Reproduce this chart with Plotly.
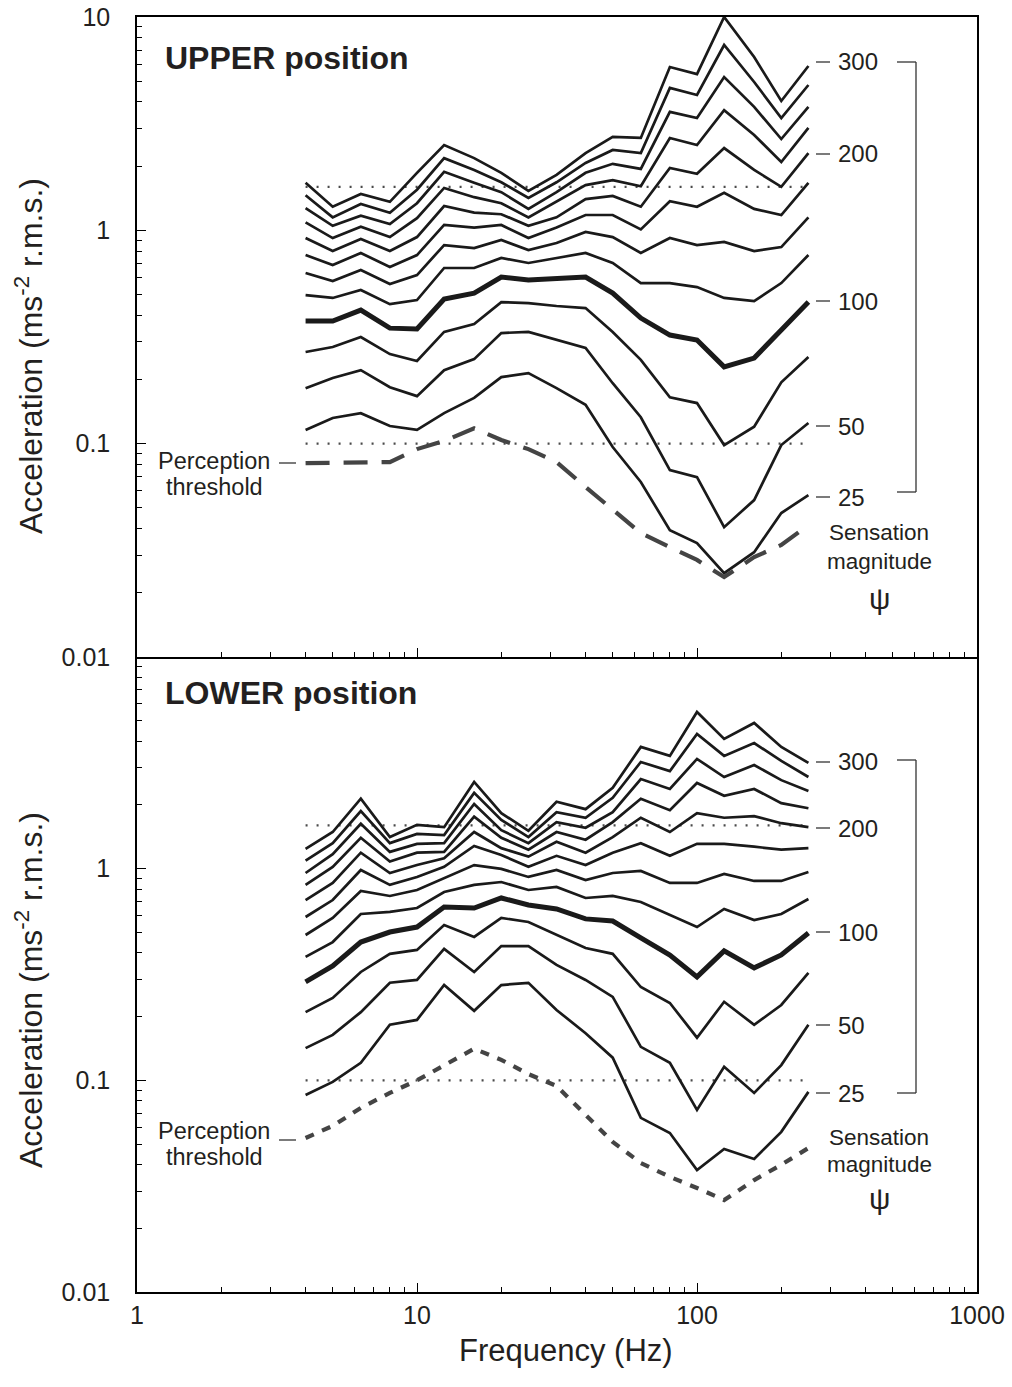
import math
import plotly.graph_objects as go

# ---------------- data ----------------
freq = [4, 5, 6.3, 8, 10, 12.5, 16, 20, 25, 31.5, 40, 50, 63, 80, 100, 125, 160, 200, 250]
magnitudes = [25, 50, 75, 100, 125, 150, 175, 200, 225, 250, 275, 300]

upper_300 = [1.67, 1.29, 1.48, 1.36, 1.86, 2.51, 2.18, 1.86, 1.53, 1.82, 2.30, 2.74, 2.71, 5.83, 5.40, 10.0, 6.49, 4.04, 5.89]
upper_275 = [1.46, 1.15, 1.33, 1.21, 1.55, 2.18, 1.92, 1.68, 1.42, 1.68, 2.07, 2.38, 2.30, 4.65, 4.31, 7.39, 4.96, 3.36, 4.80]
upper_250 = [1.27, 1.05, 1.17, 1.07, 1.34, 1.88, 1.67, 1.51, 1.26, 1.51, 1.86, 2.05, 1.94, 3.59, 3.36, 5.23, 3.79, 2.68, 3.79]
upper_225 = [1.09, 0.92, 1.04, 0.93, 1.14, 1.58, 1.43, 1.34, 1.15, 1.37, 1.63, 1.72, 1.61, 2.71, 2.51, 3.66, 2.80, 2.09, 3.02]
upper_200 = [0.92, 0.80, 0.91, 0.80, 0.93, 1.30, 1.21, 1.19, 1.05, 1.15, 1.40, 1.45, 1.29, 1.96, 1.84, 2.43, 1.92, 1.60, 2.30]
upper_175 = [0.766, 0.688, 0.783, 0.673, 0.766, 1.06, 1.03, 1.06, 0.92, 1.03, 1.18, 1.18, 1.01, 1.37, 1.29, 1.50, 1.26, 1.18, 1.67]
upper_150 = [0.631, 0.578, 0.652, 0.560, 0.617, 0.853, 0.826, 0.901, 0.809, 0.872, 0.982, 0.930, 0.783, 0.920, 0.853, 0.882, 0.800, 0.835, 1.15]
upper_125 = [0.497, 0.482, 0.525, 0.451, 0.471, 0.666, 0.666, 0.742, 0.703, 0.742, 0.783, 0.703, 0.566, 0.566, 0.542, 0.482, 0.466, 0.566, 0.766]
upper_100 = [0.376, 0.376, 0.423, 0.348, 0.345, 0.476, 0.508, 0.604, 0.585, 0.598, 0.604, 0.508, 0.388, 0.323, 0.306, 0.229, 0.252, 0.341, 0.461]
upper_75 = [0.269, 0.284, 0.316, 0.263, 0.244, 0.334, 0.364, 0.461, 0.456, 0.442, 0.432, 0.334, 0.247, 0.165, 0.155, 0.0985, 0.120, 0.194, 0.255]
upper_50 = [0.182, 0.203, 0.221, 0.184, 0.167, 0.221, 0.249, 0.330, 0.334, 0.306, 0.281, 0.192, 0.133, 0.0752, 0.0697, 0.0406, 0.0544, 0.0985, 0.125]
upper_25 = [0.116, 0.132, 0.139, 0.121, 0.116, 0.139, 0.164, 0.205, 0.214, 0.182, 0.152, 0.0964, 0.0661, 0.0393, 0.0342, 0.0247, 0.0310, 0.0473, 0.0574]
upper_threshold = [0.0811, 0.0811, 0.0811, 0.0820, 0.0943, 0.103, 0.118, 0.104, 0.0943, 0.0820, 0.0626, 0.0488, 0.0381, 0.0327, 0.0285, 0.0237, 0.0294, 0.0335, 0.0415]

lower_300 = [1.24, 1.49, 2.14, 1.41, 1.61, 1.57, 2.57, 1.83, 1.51, 2.07, 1.91, 2.41, 3.76, 3.41, 5.50, 4.10, 4.88, 3.76, 3.16]
lower_275 = [1.09, 1.32, 1.87, 1.32, 1.46, 1.44, 2.28, 1.70, 1.41, 1.85, 1.74, 2.16, 3.19, 2.89, 4.33, 3.41, 3.92, 3.23, 2.71]
lower_250 = [0.954, 1.17, 1.63, 1.20, 1.31, 1.32, 2.02, 1.52, 1.32, 1.66, 1.56, 1.85, 2.65, 2.38, 3.30, 2.71, 3.09, 2.62, 2.33]
lower_225 = [0.838, 1.02, 1.40, 1.08, 1.19, 1.20, 1.76, 1.40, 1.23, 1.49, 1.37, 1.66, 2.14, 1.89, 2.54, 2.21, 2.38, 2.04, 1.93]
lower_200 = [0.711, 0.856, 1.19, 0.954, 1.04, 1.12, 1.49, 1.25, 1.14, 1.34, 1.19, 1.41, 1.74, 1.49, 1.83, 1.74, 1.77, 1.64, 1.57]
lower_175 = [0.591, 0.711, 0.986, 0.838, 0.914, 1.02, 1.28, 1.16, 1.02, 1.15, 1.04, 1.19, 1.32, 1.15, 1.31, 1.31, 1.27, 1.23, 1.25]
lower_150 = [0.486, 0.585, 0.785, 0.743, 0.793, 0.904, 1.04, 0.997, 0.914, 0.986, 0.884, 0.954, 0.975, 0.856, 0.856, 0.944, 0.875, 0.875, 0.965]
lower_125 = [0.383, 0.450, 0.611, 0.625, 0.652, 0.776, 0.838, 0.865, 0.793, 0.820, 0.727, 0.743, 0.696, 0.604, 0.530, 0.645, 0.572, 0.611, 0.719]
lower_100 = [0.292, 0.347, 0.450, 0.502, 0.530, 0.659, 0.652, 0.727, 0.674, 0.645, 0.579, 0.566, 0.471, 0.391, 0.308, 0.409, 0.340, 0.391, 0.497]
lower_75 = [0.210, 0.245, 0.325, 0.396, 0.413, 0.542, 0.476, 0.585, 0.560, 0.486, 0.422, 0.396, 0.276, 0.232, 0.159, 0.235, 0.183, 0.227, 0.322]
lower_50 = [0.142, 0.164, 0.210, 0.289, 0.298, 0.418, 0.325, 0.431, 0.431, 0.351, 0.298, 0.248, 0.144, 0.121, 0.0725, 0.116, 0.0872, 0.118, 0.183]
lower_25 = [0.0853, 0.0983, 0.121, 0.183, 0.193, 0.282, 0.213, 0.282, 0.289, 0.215, 0.167, 0.128, 0.0665, 0.0564, 0.0377, 0.0474, 0.0425, 0.0571, 0.0882]
lower_threshold = [0.0534, 0.0609, 0.0741, 0.0872, 0.100, 0.118, 0.141, 0.125, 0.107, 0.0941, 0.0686, 0.0512, 0.0407, 0.0350, 0.0310, 0.0272, 0.0338, 0.0399, 0.0479]

dotted_levels = [1.6, 0.1]
scale_labels = ["300", "200", "100", "50", "25"]

x_ticks = [1, 10, 100, 1000]
y_ticks_upper = [0.01, 0.1, 1, 10]
y_ticks_lower = [0.01, 0.1, 1]

upper_series = [upper_25, upper_50, upper_75, upper_100, upper_125, upper_150,
                upper_175, upper_200, upper_225, upper_250, upper_275, upper_300]
lower_series = [lower_25, lower_50, lower_75, lower_100, lower_125, lower_150,
                lower_175, lower_200, lower_225, lower_250, lower_275, lower_300]

# ---------------- layout helpers ----------------
W, H = 1012, 1387
ML, MR, MT, MB = 137, 35, 17, 95
PW = W - ML - MR
PH = H - MT - MB


def px(x):
    return (x - ML) / PW


def py(y):
    return (H - MB - y) / PH


split = py(657)
FONT = "Liberation Sans, Arial, Helvetica, sans-serif"
INK = "#231f20"

fig = go.Figure()

for series, yax in ((upper_series, "y"), (lower_series, "y2")):
    xax = "x" if yax == "y" else "x2"
    # dotted reference levels
    for lvl in dotted_levels:
        fig.add_trace(go.Scatter(x=[freq[0], freq[-1]], y=[lvl, lvl], mode="lines",
                                 line=dict(color="#4a4a4a", width=2.2, dash="2px,9px"),
                                 xaxis=xax, yaxis=yax, hoverinfo="skip", showlegend=False))
    for m, vals in zip(magnitudes, series):
        fig.add_trace(go.Scatter(x=freq, y=vals, mode="lines", name=f"\u03c8 = {m}",
                                 line=dict(color="#1a1a1a", width=5 if m == 100 else 2.7),
                                 xaxis=xax, yaxis=yax, showlegend=False))

fig.add_trace(go.Scatter(x=freq, y=upper_threshold, mode="lines", name="Perception threshold",
                         line=dict(color="#444444", width=4.2, dash="24px,14px"),
                         xaxis="x", yaxis="y", showlegend=False))
fig.add_trace(go.Scatter(x=freq, y=lower_threshold, mode="lines", name="Perception threshold",
                         line=dict(color="#444444", width=4.2, dash="9px,9px"),
                         xaxis="x2", yaxis="y2", showlegend=False))

minor_x = [k * 10 ** d for d in range(0, 3) for k in range(2, 10)]
minor_y = [k * 10.0 ** d for d in range(-2, 1) for k in range(2, 10)]

axis_common = dict(type="log", showline=True, linecolor="black", linewidth=1.5, mirror=True,
                   ticks="inside", tickcolor="black", tickwidth=1.2, showgrid=False,
                   zeroline=False, automargin=False,
                   tickfont=dict(family=FONT, size=25, color=INK))

fig.update_layout(
    width=W, height=H, margin=dict(l=ML, r=MR, t=MT, b=MB, autoexpand=False),
    paper_bgcolor="white", plot_bgcolor="white", showlegend=False,
    font=dict(family=FONT, color=INK),
    xaxis=dict(axis_common, range=[0, 3], domain=[0, 1], anchor="y", matches="x2",
               tickvals=x_ticks, showticklabels=False, ticklen=9,
               minor=dict(ticks="inside", ticklen=5, tickvals=minor_x, tickcolor="black", tickwidth=1)),
    yaxis=dict(axis_common, range=[-2, 1], domain=[split, 1], anchor="x",
               tickvals=y_ticks_upper, ticktext=[str(v) for v in y_ticks_upper], ticklen=9,
               ticklabelstandoff=20,
               minor=dict(ticks="inside", ticklen=5, tickvals=minor_y, tickcolor="black", tickwidth=1)),
    xaxis2=dict(axis_common, range=[0, 3], domain=[0, 1], anchor="y2", mirror=False,
                tickvals=x_ticks, ticktext=[str(v) for v in x_ticks], ticklen=9,
                ticklabelstandoff=0,
                minor=dict(ticks="inside", ticklen=5, tickvals=minor_x, tickcolor="black", tickwidth=1)),
    yaxis2=dict(axis_common, range=[-2, 1], domain=[0, split], anchor="x2",
                tickvals=y_ticks_lower, ticktext=[str(v) for v in y_ticks_lower], ticklen=9,
                ticklabelstandoff=20,
                minor=dict(ticks="inside", ticklen=5, tickvals=minor_y, tickcolor="black", tickwidth=1)),
)

ann = []
shapes = []


def text(x, y, s, size=22, xanchor="center", yanchor="middle", bold=False, angle=0):
    ann.append(dict(xref="paper", yref="paper", x=px(x), y=py(y), text=f"<b>{s}</b>" if bold else s,
                    showarrow=False, xanchor=xanchor, yanchor=yanchor, textangle=angle,
                    font=dict(family=FONT, size=size, color=INK)))


def seg(x0, y0, x1, y1, width=1.3, color="#333333"):
    shapes.append(dict(type="line", xref="paper", yref="paper", x0=px(x0), y0=py(y0),
                       x1=px(x1), y1=py(y1), line=dict(color=color, width=width)))


# panel titles
text(163, 58, "UPPER position", size=32, xanchor="left", bold=True)
text(163, 693, "LOWER position", size=32, xanchor="left", bold=True)

# axis titles
text(29, 356, "Acceleration (ms<sup>-2</sup> r.m.s.)", size=32, angle=-90)
text(29, 990, "Acceleration (ms<sup>-2</sup> r.m.s.)", size=32, angle=-90)
text(566, 1350, "Frequency (Hz)", size=31)

# perception threshold labels
for y1, y2, ydash in ((461, 487, 463), (1131, 1157, 1140)):
    text(214, y1, "Perception", size=23.5)
    text(214, y2, "threshold", size=23.5)
    seg(279, ydash, 296, ydash)

# sensation magnitude scale
upper_pos = [62, 154, 301, 426, 497]
lower_pos = [762, 828, 932, 1025, 1093]
for positions, (b0, b1), lab_y in ((upper_pos, (62, 492), (532, 561, 598)),
                                   (lower_pos, (760, 1093), (1137, 1164, 1198))):
    for lab, yy in zip(scale_labels, positions):
        seg(816, yy, 830, yy)
        text(836, yy, lab, size=24, xanchor="left")
    seg(916, b0, 916, b1)
    seg(897, b0, 916, b0)
    seg(897, b1, 916, b1)
    text(879, lab_y[0], "Sensation", size=22.5)
    text(879, lab_y[1], "magnitude", size=22.5)
    text(879, lab_y[2], "\u03c8", size=30)

fig.update_layout(annotations=ann, shapes=shapes)
fig.write_html("out.html")
